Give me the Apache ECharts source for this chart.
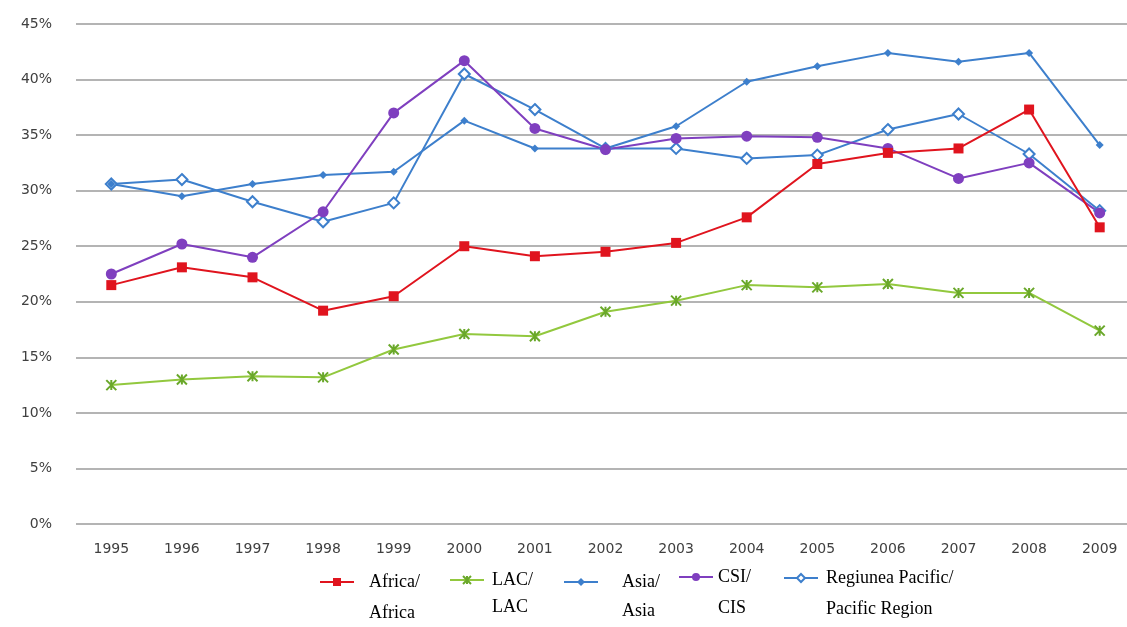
<!DOCTYPE html>
<html>
<head>
<meta charset="utf-8">
<script src="https://cdn.jsdelivr.net/npm/echarts@6/dist/echarts.min.js"></script>
<style>
  html, body { margin: 0; padding: 0; background: #fff; }
  #chart { width: 1127px; height: 627px; }
</style>
</head>
<body>
<div id="chart"></div>
<script>
const years = ['1995', '1996', '1997', '1998', '1999', '2000', '2001', '2002', '2003', '2004', '2005', '2006', '2007', '2008', '2009'];

// share values in percent
const africa = [21.5, 23.1, 22.2, 19.2, 20.5, 25.0, 24.1, 24.5, 25.3, 27.6, 32.4, 33.4, 33.8, 37.3, 26.7];
const lac = [12.5, 13.0, 13.3, 13.2, 15.7, 17.1, 16.9, 19.1, 20.1, 21.5, 21.3, 21.6, 20.8, 20.8, 17.4];
const asia = [30.6, 29.5, 30.6, 31.4, 31.7, 36.3, 33.8, 33.8, 35.8, 39.8, 41.2, 42.4, 41.6, 42.4, 34.1];
const cis = [22.5, 25.2, 24.0, 28.1, 37.0, 41.7, 35.6, 33.7, 34.7, 34.9, 34.8, 33.8, 31.1, 32.5, 28.0];
const pacific = [30.6, 31.0, 29.0, 27.2, 28.9, 40.5, 37.3, 33.8, 33.8, 32.9, 33.2, 35.5, 36.9, 33.3, 28.2];

const names = ['Africa/\nAfrica', 'LAC/\nLAC', 'Asia/\nAsia', 'CSI/\nCIS', 'Regiunea Pacific/\nPacific Region'];

const chart = echarts.init(document.getElementById('chart'));

// cy = icon centre, lh = line height, gap = space between icon and text.
// an empty first line keeps the icon level with the first text line
function legendAt(name, left, cy, gap, lh) {
  return {
    data: [name],
    left: left,
    top: cy - 1.5 * lh,
    itemWidth: 34,
    itemHeight: 10,
    itemGap: 0,
    padding: 0,
    formatter: n => '\n' + n,
    textStyle: {
      fontFamily: 'Liberation Serif',
      fontSize: 18,
      color: '#000',
      lineHeight: lh,
      padding: [0, 0, 0, Math.max(gap - 5, 0)]
    }
  };
}

function lineSeries(name, data, color, symbol, size, extra) {
  return Object.assign({
    name: name,
    type: 'line',
    data: data,
    symbol: symbol,
    symbolSize: size,
    lineStyle: { color: color, width: 2 },
    itemStyle: { color: color },
    animation: false
  }, extra || {});
}

chart.setOption({
  backgroundColor: '#fff',
  grid: { left: 76, right: -8, top: 24, bottom: 103, outerBoundsMode: 'none', containLabel: false },
  legend: [
    legendAt(names[0], 319, 582, 15, 31),
    legendAt(names[1], 449, 580, 8, 27),
    legendAt(names[2], 563, 582, 24, 29),
    legendAt(names[3], 678, 577, 5, 31),
    legendAt(names[4], 783, 578, 8, 31)
  ],
  xAxis: {
    type: 'category',
    data: years,
    boundaryGap: true,
    axisLine: { show: false },
    axisTick: { show: false },
    axisLabel: {
      margin: 18,
      fontFamily: 'DejaVu Sans',
      fontSize: 14,
      color: '#404040'
    }
  },
  yAxis: {
    type: 'value',
    min: 0,
    max: 45,
    interval: 5,
    axisLine: { show: false },
    axisTick: { show: false },
    axisLabel: {
      margin: 24,
      formatter: '{value}%',
      fontFamily: 'DejaVu Sans',
      fontSize: 14,
      color: '#404040'
    },
    splitLine: { lineStyle: { color: '#b4b4b4', width: 2 } }
  },
  series: [
    lineSeries(names[4], pacific, '#3d7fcc', 'diamond', 11, {
      itemStyle: { color: '#fff', borderColor: '#3d7fcc', borderWidth: 2 }
    }),
    lineSeries(names[2], asia, '#3d7fcc', 'diamond', 8),
    lineSeries(names[1], lac, '#92c83e', 'path://M0,0 L10,10 M10,0 L0,10 M5,0 L5,10', 10, {
      itemStyle: { color: '#5a9e1e', borderColor: '#6aa82a', borderWidth: 2 }
    }),
    lineSeries(names[3], cis, '#7f3fbf', 'circle', 11),
    lineSeries(names[0], africa, '#e0141e', 'rect', 10)
  ]
});
</script>
</body>
</html>
